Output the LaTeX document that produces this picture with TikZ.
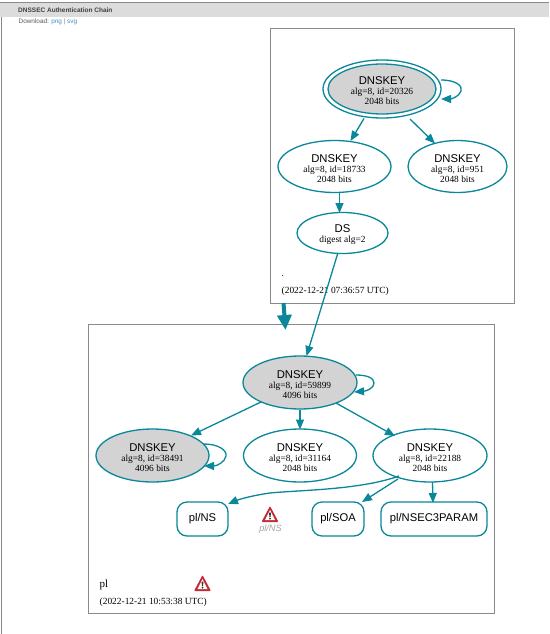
\documentclass[tikz,border=0pt]{standalone}
\usepackage{fontspec}
\setmainfont{Liberation Serif}
\setsansfont{Liberation Sans}
\usetikzlibrary{arrows.meta,shapes.geometric}
\definecolor{teal1}{HTML}{0A879A}
\definecolor{keygray}{HTML}{D3D3D3}
\definecolor{frame}{HTML}{8A8A8A}
\definecolor{band}{HTML}{DCDCDC}
\definecolor{linkblue}{HTML}{3F8FC4}
\definecolor{warnred}{HTML}{C42B35}
\tikzset{
 cluster/.style={draw=frame,line width=0.9pt,fill=white},
 keynode/.style={ellipse,draw=teal1,line width=1.3pt,inner sep=0pt,align=center,fill=white,font=\fontsize{9.4}{10}\selectfont},
 grayfill/.style={fill=keygray},
 rr/.style={rectangle,rounded corners=10pt,draw=teal1,line width=1.3pt,inner sep=0pt,font=\sffamily\fontsize{11.2}{11.2}\selectfont,fill=white},
 edge/.style={draw=teal1,line width=1.3pt,-{Stealth[length=10pt,width=8pt,inset=0pt]}},
 warn/.pic={
   \fill[warnred,rounded corners=1pt] (-8.5,7.5)--(0,-8.5)--(8.5,7.5)--cycle;
   \fill[white] (-5,5.5)--(0,-4.5)--(5,5.5)--cycle;
   \fill[black!80] (-1,-2)--(1,-2)--(.5,2.5)--(-.5,2.5)--cycle;
   \fill[black!80] (0,4) circle (1);
 }
}
\newcommand{\bigline}[1]{\rule{0pt}{11.5pt}\textsf{\fontsize{11.3}{10}\selectfont #1}}
\newcommand{\keytext}[2]{\bigline{DNSKEY}\\alg=8, id=#1\\#2 bits}
\begin{document}
\begin{tikzpicture}[x=1pt,y=-1pt]
\useasboundingbox (0,0) rectangle (549,634);
\fill[white] (0,0) rectangle (549,634);
% page chrome
\fill[band] (0,3) rectangle (549,17);
\draw[frame,line width=0.8pt] (0,2.5)--(549,2.5);
\draw[frame,line width=1pt] (1.5,17)--(1.5,634);
\node[anchor=west,inner sep=0pt,font=\sffamily\bfseries\fontsize{6.5}{6.5}\selectfont,text=black!75] (title) at (18,10.5) {DNSSEC Authentication Chain};
\node[anchor=west,inner sep=0pt,font=\sffamily\fontsize{6.4}{6.4}\selectfont,text=black!65] (dl) at (18.5,21.5) {Download: \textcolor{linkblue}{png} \textcolor{black!50}{|} \textcolor{linkblue}{svg}};
% clusters
\node[cluster,minimum width=244pt,minimum height=275pt,inner sep=0pt] (c1) at (392,165.5) {};
\node[cluster,minimum width=406pt,minimum height=289pt,inner sep=0pt] (c2) at (291,468.5) {};
% top nodes
\draw[teal1,line width=1.3pt,fill=white] (382,89) ellipse [x radius=59,y radius=29];
\node[keynode,grayfill,minimum width=108pt,minimum height=50pt] (k20326) at (382,89) {\keytext{20326}{2048}};
\node[keynode,minimum width=113pt,minimum height=52pt] (k18733) at (334.5,166.5) {\keytext{18733}{2048}};
\node[keynode,minimum width=99pt,minimum height=52pt] (k951) at (457.5,166.5) {\keytext{951}{2048}};
\node[keynode,minimum width=91pt,minimum height=41pt] (ds) at (342.5,233) {\bigline{DS}\\digest alg=2};
\node[anchor=west,inner sep=0pt,font=\fontsize{9.4}{10}\selectfont] (dot) at (281.5,276) {.};
\node[anchor=west,inner sep=0pt,font=\fontsize{9.4}{10}\selectfont] (t1) at (281.5,291.5) {(2022-12-21 07:36:57 UTC)};
% bottom nodes
\node[keynode,grayfill,minimum width=114pt,minimum height=53pt] (k59899) at (300,382.5) {\keytext{59899}{4096}};
\node[keynode,grayfill,minimum width=113pt,minimum height=53pt] (k38491) at (152.5,455.5) {\keytext{38491}{4096}};
\node[keynode,minimum width=113pt,minimum height=53pt] (k31164) at (300,455.5) {\keytext{31164}{2048}};
\node[keynode,minimum width=114pt,minimum height=53pt] (k22188) at (430,455.5) {\keytext{22188}{2048}};
\node[rr,minimum width=51pt,minimum height=34pt] (ns) at (202.5,519) {pl/NS};
\node[rr,minimum width=52pt,minimum height=34pt] (soa) at (338,519) {pl/SOA};
\node[rr,minimum width=106pt,minimum height=34pt] (nsec) at (434,519) {pl/NSEC3PARAM};
\pic at (270,514.5) {warn};
\node[inner sep=0pt,font=\sffamily\itshape\fontsize{9.2}{9.2}\selectfont,text=black!35] (wlabel) at (270.5,529.5) {pl/NS};
\node[anchor=west,inner sep=0pt,font=\fontsize{11}{11}\selectfont] (pl) at (99.5,585) {pl};
\pic at (202.5,583.5) {warn};
\node[anchor=west,inner sep=0pt,font=\fontsize{9.4}{10}\selectfont] (t2) at (99.5,602.5) {(2022-12-21 10:53:38 UTC)};
% edges
\draw[edge] (k20326.center) ++(-18,29.5) -- (350.5,141);
\draw[edge] (k20326.center) ++(28,30) -- (435,143.5);
\draw[edge] (k18733.south) ++(5,0) -- (339.5,213);
\draw[edge] (ds.south) ++(-5,0) -- (306.5,356);
\draw[edge] (441,80) .. controls (456,80) and (463,86) .. (461,91) .. controls (459,97) and (451,99) .. (441,99);
\draw[edge] (k59899.south) -- (300,429.5);
\draw[edge] (261,402) -- (191,435.5);
\draw[edge] (336,403) -- (395,436);
\draw[edge] (204,444) .. controls (218,444) and (227,450) .. (226,456) .. controls (225,462) and (217,466) .. (204,466);
\draw[edge] (356,375) .. controls (367,375) and (374,378) .. (374,383) .. controls (374,388) and (367,391) .. (354,392);
\draw[edge] (399,476) .. controls (360,490) and (300,490) .. (270,493) .. controls (255,495) and (240,499) .. (228,504);
\draw[edge] (398,479) -- (362,502);
\draw[edge] (432.5,482) -- (433,503);
\draw[teal1,line width=4pt,-{Stealth[length=15pt,width=14pt,inset=0pt]}] (283.5,303) -- (285.5,330);
\end{tikzpicture}
\end{document}
